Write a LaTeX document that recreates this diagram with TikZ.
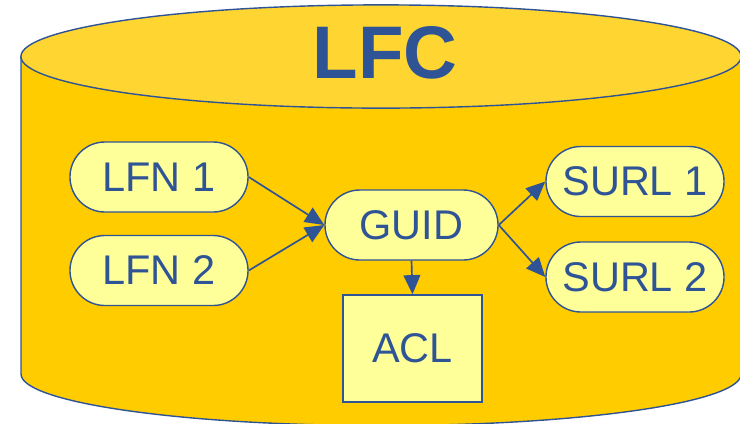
\documentclass[tikz,border=0pt]{standalone}
\usepackage{fontspec}
\setmainfont{Liberation Sans}
\usepackage{xcolor}
\usepackage{tikz}
\usetikzlibrary{arrows.meta}
\definecolor{lfcblue}{RGB}{47,84,150}
\definecolor{lfcgold}{RGB}{255,204,0}
\definecolor{lfctop}{RGB}{255,213,50}
\definecolor{lfcpale}{RGB}{255,255,153}
\tikzset{
  pill/.style={draw=lfcblue, line width=1pt, fill=lfcpale, rounded corners=0.875cm, inner sep=0pt,
    minimum width=4.45cm, minimum height=1.75cm, text=lfcblue, font=\fontsize{29.5}{34}\selectfont},
  tablebox/.style={draw=lfcblue, line width=1pt, fill=lfcpale, inner sep=0pt,
    minimum width=3.475cm, minimum height=2.675cm, text=lfcblue, font=\fontsize{29.5}{34}\selectfont},
  link/.style={-{Triangle[length=0.48cm,width=0.42cm]}, lfcblue, line width=1.2pt},
}
\begin{document}
\begin{tikzpicture}[x=0.025cm,y=-0.025cm]
  \useasboundingbox (0,0) rectangle (740,423);
  \clip (0,0) rectangle (740,423);
  % cylinder
  \path[draw=lfcblue, line width=1pt, fill=lfcgold] (21,56.5) -- (21,374)
    arc[start angle=180, end angle=360, x radius=9cm, y radius=1.29cm] -- (741,56.5);
  \filldraw[draw=lfcblue, line width=1pt, fill=lfctop] (381,56.5) ellipse [x radius=9cm, y radius=1.29cm];
  \node[inner sep=0pt, text=lfcblue, font=\bfseries\fontsize{53}{60}\selectfont] (title) at (385,52.5) {LFC};
  % entries
  \node[pill] (lfnA) at (159,177) {LFN 1};
  \node[pill] (lfnB) at (159,270.5) {LFN 2};
  \node[pill, minimum width=4.325cm] (guid) at (411.5,225) {GUID};
  \node[pill] (surlA) at (635,181.5) {SURL 1};
  \node[pill] (surlB) at (635,277) {SURL 2};
  \node[tablebox] (acl) at (412.5,348.5) {ACL};
  \draw[link] (lfnA.east) -- (guid.west);
  \draw[link] (lfnB.east) -- (guid.west);
  \draw[link] (guid.east) -- (surlA.west);
  \draw[link] (guid.east) -- (surlB.west);
  \draw[link] (guid.south) -- (acl.north);
\end{tikzpicture}
\end{document}
